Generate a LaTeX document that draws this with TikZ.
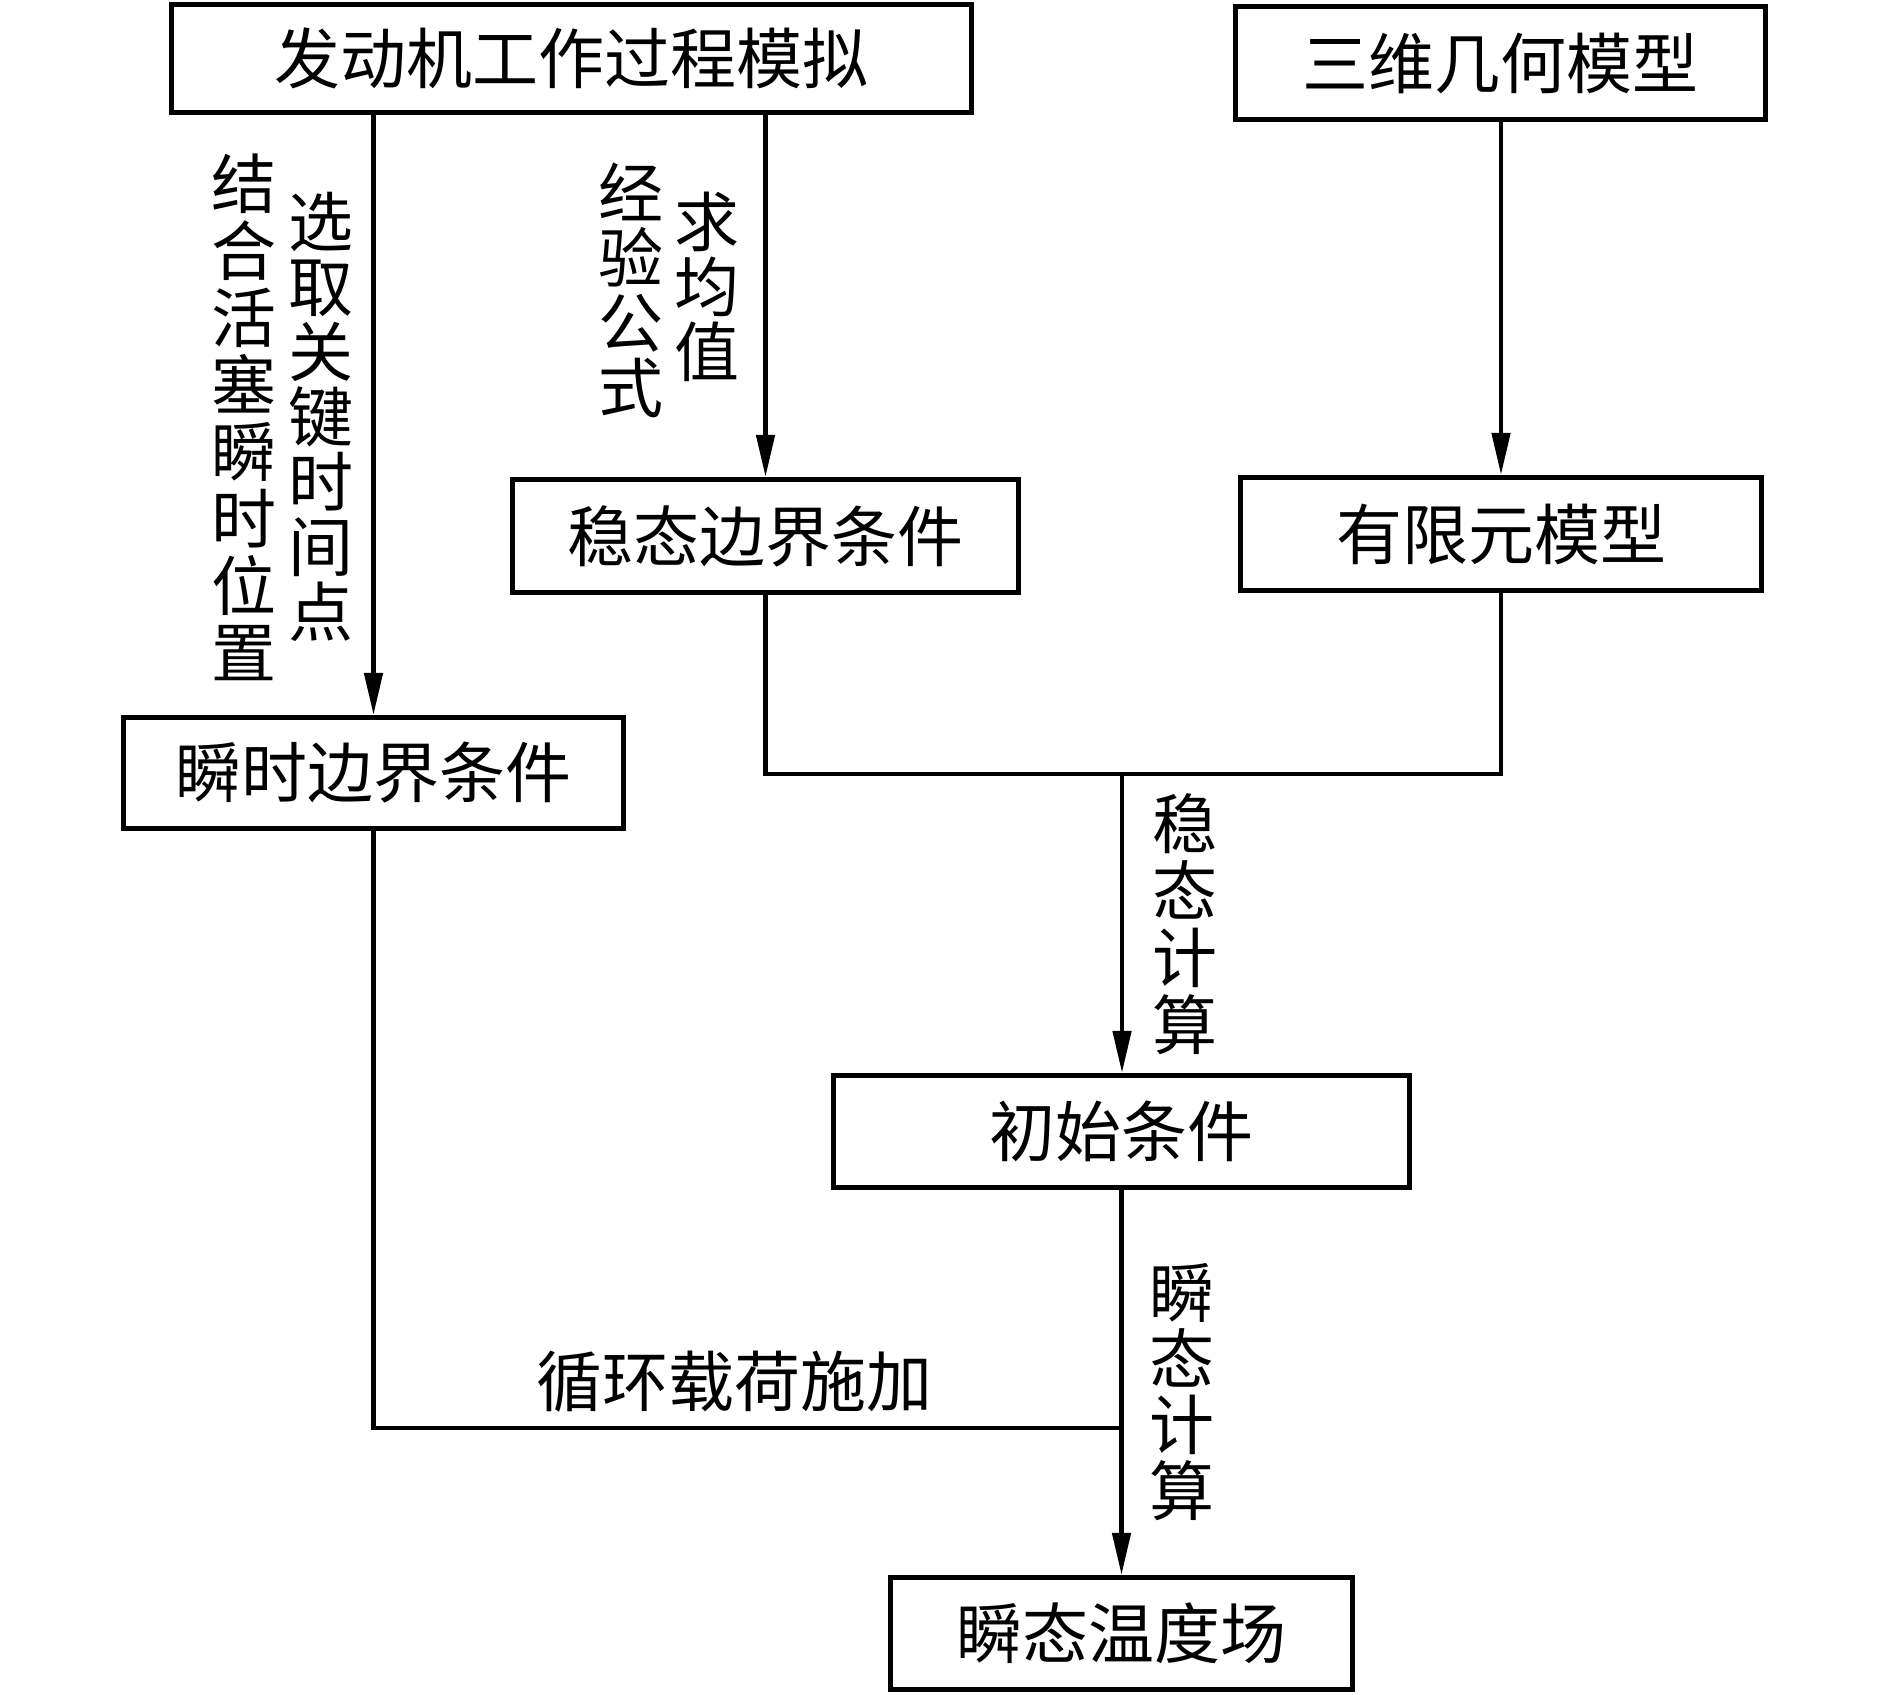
\documentclass[tikz,border=0pt]{standalone}
\usepackage{fontspec}
\newfontfamily\cjk{Noto Sans CJK SC}
\usetikzlibrary{arrows.meta}
\begin{document}
\begin{tikzpicture}[x=1pt,y=1pt,
  box/.style={draw, line width=4.6pt, inner sep=0pt, font=\cjk\fontsize{66}{66}\selectfont},
  conn/.style={line width=4.6pt},
  arr/.style={conn, -{Triangle[length=42pt,width=18pt]}},
  lbl/.style={font=\cjk\fontsize{65}{66}\selectfont, inner sep=0pt, align=center, anchor=north}]
\fill[white] (0,0) rectangle (1889,-1694);
\useasboundingbox (0,0) rectangle (1889,-1694);
% boxes
\node[box, minimum width=800.5pt, minimum height=108.5pt] (A) at (571.5,-58.5) {发动机工作过程模拟};
\node[box, minimum width=530.5pt, minimum height=113.5pt] (B) at (1500.5,-63) {三维几何模型};
\node[box, minimum width=506.5pt, minimum height=113.5pt] (C) at (765.5,-536) {稳态边界条件};
\node[box, minimum width=521.5pt, minimum height=113.5pt] (D) at (1501,-534) {有限元模型};
\node[box, minimum width=500.5pt, minimum height=111.5pt] (E) at (373.5,-773) {瞬时边界条件};
\node[box, minimum width=576.5pt, minimum height=112.5pt] (F) at (1121.5,-1131.5) {初始条件};
\node[box, minimum width=462.5pt, minimum height=112.5pt] (G) at (1121.5,-1633.5) {瞬态温度场};
% connectors
\draw[arr] (A.south -| E.north) -- (E.north);
\draw[arr] (A.south -| C.north) -- (C.north);
\draw[arr] (B.south -| D.north) -- (D.north);
\coordinate (J) at (1122,-774);
\draw[conn] (C.south) |- (J) -| (D.south);
\draw[arr] (J) -- (J |- F.north);
\coordinate (K) at (1121.5,-1428);
\draw[conn] (E.south) |- (K);
\draw[arr] (F.south) -- (G.north);
% labels
\node[lbl, font=\cjk\fontsize{65}{67}\selectfont] (l1) at (244,-154) {结\\合\\活\\塞\\瞬\\时\\位\\置};
\node[lbl, font=\cjk\fontsize{65}{65}\selectfont] (l2) at (321,-192) {选\\取\\关\\键\\时\\间\\点};
\node[lbl, font=\cjk\fontsize{65}{65}\selectfont] (l3) at (631,-163) {经\\验\\公\\式};
\node[lbl, font=\cjk\fontsize{65}{65}\selectfont] (l4) at (707,-192) {求\\均\\值};
\node[lbl, font=\cjk\fontsize{65}{67}\selectfont] (l5) at (1185,-793) {稳\\态\\计\\算};
\node[lbl, font=\cjk\fontsize{65}{66}\selectfont] (l6) at (1182,-1263) {瞬\\态\\计\\算};
\node[lbl, anchor=center, font=\cjk\fontsize{66}{66}\selectfont] (l7) at (734,-1382) {循环载荷施加};
\end{tikzpicture}
\end{document}
